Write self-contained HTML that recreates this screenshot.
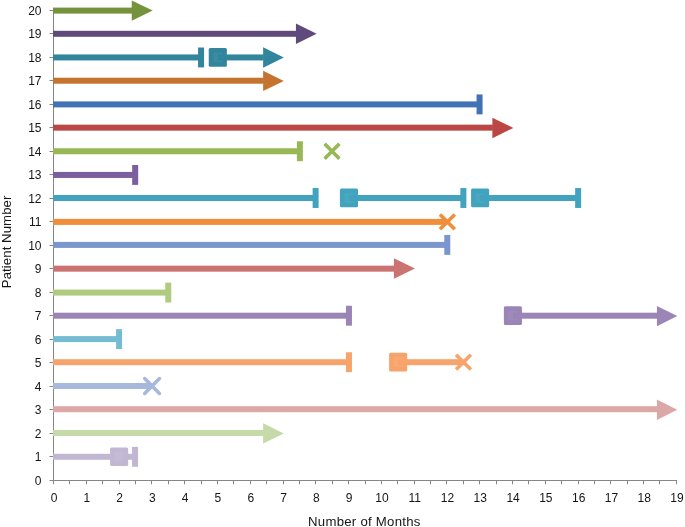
<!DOCTYPE html>
<html><head><meta charset="utf-8"><title>Chart</title>
<style>
html,body{margin:0;padding:0;background:#fff;}
svg{display:block}
text{font-family:"Liberation Sans",sans-serif;font-size:12px;fill:#151515;}
.t{font-size:13.2px}
</style></head><body>
<svg width="685" height="527" viewBox="0 0 685 527">
<rect width="685" height="527" fill="#fff"/>
<g>
<path d="M53.50 10.00V480.50H677.01" stroke="#868686" stroke-width="1" fill="none"/>
<path d="M49.50 480.50H53.50M49.50 456.50H53.50M49.50 433.50H53.50M49.50 409.50H53.50M49.50 386.50H53.50M49.50 362.50H53.50M49.50 339.50H53.50M49.50 315.50H53.50M49.50 292.50H53.50M49.50 268.50H53.50M49.50 245.50H53.50M49.50 221.50H53.50M49.50 198.50H53.50M49.50 174.50H53.50M49.50 151.50H53.50M49.50 127.50H53.50M49.50 104.50H53.50M49.50 80.50H53.50M49.50 57.50H53.50M49.50 33.50H53.50M49.50 10.50H53.50M53.50 480.50V484.30M69.50 480.50V484.30M86.50 480.50V484.30M102.50 480.50V484.30M119.50 480.50V484.30M135.50 480.50V484.30M151.50 480.50V484.30M168.50 480.50V484.30M184.50 480.50V484.30M201.50 480.50V484.30M217.50 480.50V484.30M233.50 480.50V484.30M250.50 480.50V484.30M266.50 480.50V484.30M283.50 480.50V484.30M299.50 480.50V484.30M315.50 480.50V484.30M332.50 480.50V484.30M348.50 480.50V484.30M365.50 480.50V484.30M381.50 480.50V484.30M397.50 480.50V484.30M414.50 480.50V484.30M430.50 480.50V484.30M446.50 480.50V484.30M463.50 480.50V484.30M479.50 480.50V484.30M496.50 480.50V484.30M512.50 480.50V484.30M528.50 480.50V484.30M545.50 480.50V484.30M561.50 480.50V484.30M578.50 480.50V484.30M594.50 480.50V484.30M610.50 480.50V484.30M627.50 480.50V484.30M643.50 480.50V484.30M659.50 480.50V484.30M676.50 480.50V484.30" stroke="#868686" stroke-width="1" fill="none"/>
</g>
<g>
<rect x="53.00" y="7.60" width="79.27" height="6.0" fill="#76923C"/>
<polygon points="131.77,0.40 152.67,10.60 131.77,20.80" fill="#76923C"/>
<rect x="53.00" y="30.80" width="243.42" height="6.0" fill="#604A7B"/>
<polygon points="295.92,23.50 316.62,33.70 295.92,43.90" fill="#604A7B"/>
<rect x="53.00" y="54.45" width="148.36" height="6.0" fill="#31859C"/>
<rect x="198.06" y="47.50" width="6" height="19.9" fill="#31859C"/>
<rect x="208.75" y="48.05" width="18.1" height="18.6" rx="1.5" fill="#31859C"/>
<rect x="213.25" y="52.55" width="9" height="9.6" fill="#fff" fill-opacity="0.05"/>
<rect x="217.75" y="54.45" width="45.88" height="6.0" fill="#31859C"/>
<polygon points="263.13,47.25 283.83,57.45 263.13,67.65" fill="#31859C"/>
<rect x="53.00" y="77.72" width="210.63" height="6.0" fill="#C57430"/>
<polygon points="263.13,70.72 283.83,80.92 263.13,91.12" fill="#C57430"/>
<rect x="53.00" y="101.40" width="427.07" height="6.0" fill="#4272B6"/>
<rect x="476.57" y="94.45" width="6" height="19.9" fill="#4272B6"/>
<rect x="53.00" y="124.65" width="439.86" height="6.0" fill="#BB4744"/>
<polygon points="492.36,117.75 513.36,127.95 492.36,138.15" fill="#BB4744"/>
<rect x="53.00" y="148.25" width="246.72" height="6.0" fill="#98B855"/>
<rect x="296.87" y="141.30" width="6" height="19.9" fill="#98B855"/>
<path d="M324.62 143.85L339.41 158.65M324.62 158.65L339.41 143.85" stroke="#98B855" stroke-width="3.6" fill="none"/>
<rect x="53.00" y="171.94" width="82.78" height="6.0" fill="#7A5E9E"/>
<rect x="132.17" y="164.99" width="6" height="19.9" fill="#7A5E9E"/>
<rect x="53.00" y="195.00" width="263.12" height="6.0" fill="#42A3BE"/>
<rect x="312.62" y="188.05" width="6" height="19.9" fill="#42A3BE"/>
<rect x="339.91" y="188.60" width="18.1" height="18.6" rx="1.5" fill="#42A3BE"/>
<rect x="344.41" y="193.10" width="9" height="9.6" fill="#fff" fill-opacity="0.05"/>
<rect x="348.91" y="195.00" width="114.76" height="6.0" fill="#42A3BE"/>
<rect x="460.38" y="188.05" width="6" height="19.9" fill="#42A3BE"/>
<rect x="471.07" y="188.60" width="18.1" height="18.6" rx="1.5" fill="#42A3BE"/>
<rect x="475.57" y="193.10" width="9" height="9.6" fill="#fff" fill-opacity="0.05"/>
<rect x="480.07" y="195.00" width="98.37" height="6.0" fill="#42A3BE"/>
<rect x="575.14" y="188.05" width="6" height="19.9" fill="#42A3BE"/>
<rect x="53.00" y="218.90" width="394.28" height="6.0" fill="#F08E3B"/>
<path d="M439.98 214.50L454.78 229.30M439.98 229.30L454.78 214.50" stroke="#F08E3B" stroke-width="3.6" fill="none"/>
<rect x="53.00" y="241.90" width="394.28" height="6.0" fill="#7996CD"/>
<rect x="444.28" y="234.95" width="6" height="19.9" fill="#7996CD"/>
<rect x="53.00" y="265.66" width="341.39" height="6.0" fill="#CB7372"/>
<polygon points="393.89,258.36 414.99,268.56 393.89,278.76" fill="#CB7372"/>
<rect x="53.00" y="289.57" width="115.56" height="6.0" fill="#AFCB7E"/>
<rect x="165.26" y="282.62" width="6" height="19.9" fill="#AFCB7E"/>
<rect x="53.00" y="312.70" width="295.91" height="6.0" fill="#9A85B6"/>
<rect x="345.96" y="305.75" width="6" height="19.9" fill="#9A85B6"/>
<rect x="503.86" y="306.30" width="18.1" height="18.6" rx="1.5" fill="#9A85B6"/>
<rect x="508.36" y="310.80" width="9" height="9.6" fill="#fff" fill-opacity="0.05"/>
<rect x="512.86" y="312.70" width="144.55" height="6.0" fill="#9A85B6"/>
<polygon points="656.91,305.90 677.31,316.10 656.91,326.30" fill="#9A85B6"/>
<rect x="53.00" y="336.10" width="66.38" height="6.0" fill="#74BCD1"/>
<rect x="116.08" y="329.15" width="6" height="19.9" fill="#74BCD1"/>
<rect x="53.00" y="359.20" width="295.91" height="6.0" fill="#F7A46C"/>
<rect x="345.96" y="352.25" width="6" height="19.9" fill="#F7A46C"/>
<rect x="389.10" y="352.80" width="18.1" height="18.6" rx="1.5" fill="#F7A46C"/>
<rect x="393.60" y="357.30" width="9" height="9.6" fill="#fff" fill-opacity="0.05"/>
<rect x="398.10" y="359.20" width="65.58" height="6.0" fill="#F7A46C"/>
<path d="M456.08 354.80L470.88 369.60M456.08 369.60L470.88 354.80" stroke="#F7A46C" stroke-width="3.6" fill="none"/>
<rect x="53.00" y="383.00" width="99.17" height="6.0" fill="#A6B9DD"/>
<path d="M144.67 378.60L159.47 393.40M144.67 393.40L159.47 378.60" stroke="#A6B9DD" stroke-width="3.6" fill="none" stroke-linecap="round"/>
<rect x="53.00" y="406.20" width="604.41" height="6.0" fill="#DCA8A7"/>
<polygon points="656.91,399.50 677.31,409.70 656.91,419.90" fill="#DCA8A7"/>
<rect x="53.00" y="430.00" width="210.63" height="6.0" fill="#C6D9A9"/>
<polygon points="263.13,423.20 283.83,433.40 263.13,443.60" fill="#C6D9A9"/>
<rect x="53.00" y="453.80" width="82.78" height="6.0" fill="#C1B7D3"/>
<rect x="132.07" y="446.85" width="6" height="19.9" fill="#C1B7D3"/>
<rect x="110.08" y="447.40" width="18.1" height="18.6" rx="1.5" fill="#C1B7D3"/>
<rect x="114.58" y="451.90" width="9" height="9.6" fill="#fff" fill-opacity="0.05"/>
</g>
<g>
<text x="41.5" y="484.80" text-anchor="end">0</text>
<text x="41.5" y="461.30" text-anchor="end">1</text>
<text x="41.5" y="437.80" text-anchor="end">2</text>
<text x="41.5" y="414.30" text-anchor="end">3</text>
<text x="41.5" y="390.80" text-anchor="end">4</text>
<text x="41.5" y="367.30" text-anchor="end">5</text>
<text x="41.5" y="343.80" text-anchor="end">6</text>
<text x="41.5" y="320.30" text-anchor="end">7</text>
<text x="41.5" y="296.80" text-anchor="end">8</text>
<text x="41.5" y="273.30" text-anchor="end">9</text>
<text x="41.5" y="249.80" text-anchor="end">10</text>
<text x="41.5" y="226.30" text-anchor="end">11</text>
<text x="41.5" y="202.80" text-anchor="end">12</text>
<text x="41.5" y="179.30" text-anchor="end">13</text>
<text x="41.5" y="155.80" text-anchor="end">14</text>
<text x="41.5" y="132.30" text-anchor="end">15</text>
<text x="41.5" y="108.80" text-anchor="end">16</text>
<text x="41.5" y="85.30" text-anchor="end">17</text>
<text x="41.5" y="61.80" text-anchor="end">18</text>
<text x="41.5" y="38.30" text-anchor="end">19</text>
<text x="41.5" y="14.80" text-anchor="end">20</text>
<text x="54.00" y="502.2" text-anchor="middle">0</text>
<text x="86.79" y="502.2" text-anchor="middle">1</text>
<text x="119.58" y="502.2" text-anchor="middle">2</text>
<text x="152.37" y="502.2" text-anchor="middle">3</text>
<text x="185.16" y="502.2" text-anchor="middle">4</text>
<text x="217.95" y="502.2" text-anchor="middle">5</text>
<text x="250.74" y="502.2" text-anchor="middle">6</text>
<text x="283.53" y="502.2" text-anchor="middle">7</text>
<text x="316.32" y="502.2" text-anchor="middle">8</text>
<text x="349.11" y="502.2" text-anchor="middle">9</text>
<text x="381.90" y="502.2" text-anchor="middle">10</text>
<text x="414.69" y="502.2" text-anchor="middle">11</text>
<text x="447.48" y="502.2" text-anchor="middle">12</text>
<text x="480.27" y="502.2" text-anchor="middle">13</text>
<text x="513.06" y="502.2" text-anchor="middle">14</text>
<text x="545.85" y="502.2" text-anchor="middle">15</text>
<text x="578.64" y="502.2" text-anchor="middle">16</text>
<text x="611.43" y="502.2" text-anchor="middle">17</text>
<text x="644.22" y="502.2" text-anchor="middle">18</text>
<text x="677.01" y="502.2" text-anchor="middle">19</text>
<text x="364.2" y="526.2" text-anchor="middle" class="t" textLength="112.4" lengthAdjust="spacing">Number of Months</text>
<text transform="translate(11 241.9) rotate(-90)" text-anchor="middle" class="t" textLength="92.6" lengthAdjust="spacing">Patient Number</text>
</g>
</svg>
</body></html>
